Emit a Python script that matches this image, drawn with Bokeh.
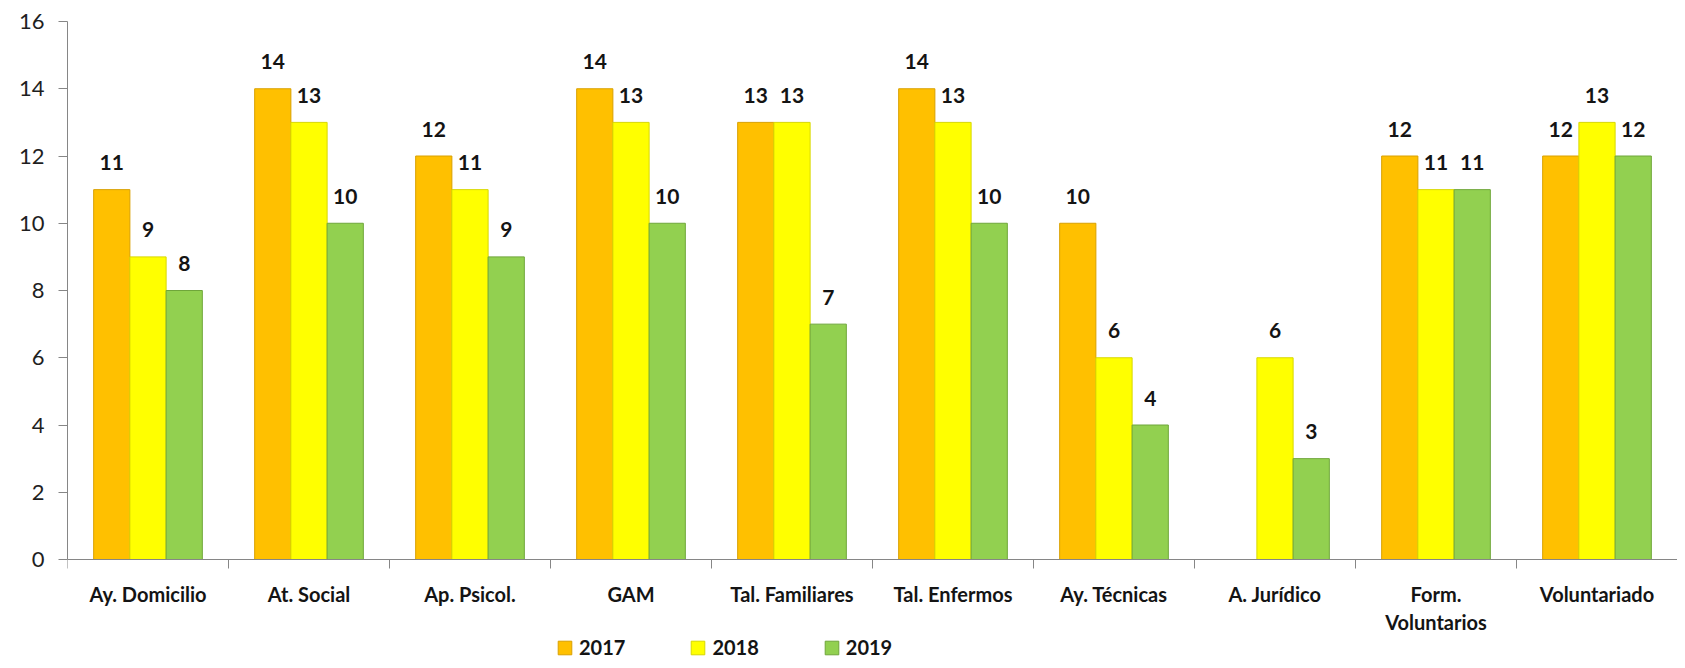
import numpy as np
from bokeh.plotting import figure
from bokeh.models import FixedTicker, Legend, LegendItem, ColumnDataSource
from bokeh.core.properties import value
from bokeh.embed import file_html
from bokeh.resources import INLINE

categories = ["Ay. Domicilio", "At. Social", "Ap. Psicol.", "GAM", "Tal. Familiares",
              "Tal. Enfermos", "Ay. Técnicas", "A. Jurídico", "Form.\nVoluntarios", "Voluntariado"]
years = ["2017", "2018", "2019"]
v2017 = [11, 14, 12, 14, 13, 14, 10, None, 12, 12]
v2018 = [9, 13, 11, 13, 13, 13, 6, 6, 11, 13]
v2019 = [8, 10, 9, 10, 7, 10, 4, 3, 11, 12]
y_ticks = [0, 2, 4, 6, 8, 10, 12, 14, 16]

series = [v2017, v2018, v2019]
fills = ["#FFC000", "#FFFF00", "#92D050"]
edges = ["#D9A000", "#D8D800", "#6FA63A"]

FONT = "Lato"
BAR_W = 0.225
offsets = [-BAR_W, 0.0, BAR_W]

# layout: plot area 21px..559px for 0..16, then 101px of room below for labels + legend
Y_MAX = 16
y_start = -Y_MAX * 101 / 538

p = figure(width=1677, height=660, x_range=(0, len(categories)), y_range=(y_start, Y_MAX),
           output_backend="svg", toolbar_location=None,
           min_border_left=67, min_border_right=0, min_border_top=21, min_border_bottom=0)
p.outline_line_color = None
p.xgrid.visible = False
p.ygrid.visible = False
p.background_fill_color = "white"

renderers = []
for vals, off, fc, ec in zip(series, offsets, fills, edges):
    xs = [i + 0.5 + off for i, v in enumerate(vals) if v is not None]
    ys = [v for v in vals if v is not None]
    src = ColumnDataSource(dict(x=xs, top=ys, label=[str(v) for v in ys]))
    r = p.vbar(x="x", top="top", width=BAR_W, source=src, fill_color=fc,
               line_color=ec, line_width=1)
    renderers.append(r)
    p.text(x="x", y="top", text="label", source=src, text_align="center",
           text_baseline="middle", y_offset=-27, text_font=value(FONT),
           text_font_style="bold", text_font_size="21px", text_color="#141414")

# y axis
yax = p.yaxis[0]
yax.ticker = FixedTicker(ticks=y_ticks)
yax.bounds = (0, Y_MAX)
yax.axis_line_color = "#868686"
yax.major_tick_line_color = "#868686"
yax.major_tick_out = 9
yax.major_tick_in = 0
yax.minor_tick_line_color = None
yax.major_label_text_font = FONT
yax.major_label_text_font_size = "22px"
yax.major_label_text_color = "#1F1F1F"
yax.major_label_standoff = 14

# x axis (drawn at y = 0)
xax = p.xaxis[0]
xax.fixed_location = 0
centers = [i + 0.5 for i in range(len(categories))]
xax.ticker = FixedTicker(ticks=centers, minor_ticks=list(range(len(categories) + 1)))
xax.major_label_overrides = {c: name for c, name in zip(centers, categories)}
xax.axis_line_color = "#868686"
xax.major_tick_line_color = None
xax.major_tick_out = 0
xax.major_tick_in = 0
xax.minor_tick_line_color = "#868686"
xax.minor_tick_out = 9
xax.minor_tick_in = 0
xax.major_label_text_font = FONT
xax.major_label_text_font_style = "bold"
xax.major_label_text_font_size = "20px"
xax.major_label_text_color = "#141414"
xax.major_label_standoff = 13

legend = Legend(items=[LegendItem(label=y, renderers=[r]) for y, r in zip(years, renderers)],
                orientation="horizontal", location=(489, 1))
legend.border_line_color = None
legend.background_fill_alpha = 0
legend.label_text_font = FONT
legend.label_text_font_style = "bold"
legend.label_text_font_size = "20px"
legend.label_text_color = "#141414"
legend.glyph_width = 17
legend.glyph_height = 17
legend.label_standoff = 6
legend.spacing = 64
legend.padding = 2
legend.margin = 0
p.add_layout(legend)

open("out.html", "w").write(file_html(p, INLINE))
